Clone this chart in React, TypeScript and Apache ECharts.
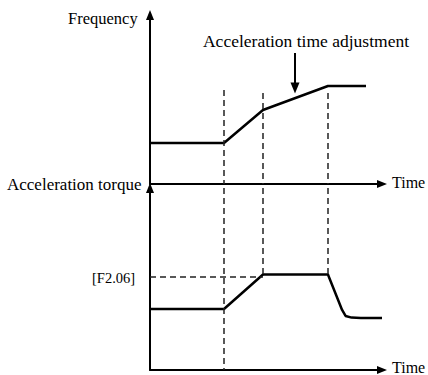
import React, { useEffect, useRef } from "react";
import * as echarts from "echarts";

// Frequency (upper panel), time in arbitrary units 0..100
const freqTime = [0, 31.9, 48.7, 76.7, 93.1];
const freqValue = [24.3, 24.3, 43.8, 58.0, 58.0];

// Acceleration torque (lower panel)
const torqueTime = [0, 31.9, 48.7, 76.7, 82.8, 84.3, 86.9, 90.9, 100];
const torqueValue = [33.5, 33.5, 52.5, 52.5, 33.0, 29.7, 28.8, 28.6, 28.6];

// Dashed guide lines
const markerTimes = [31.9, 48.7, 76.7];
const upperDashTop = [55.6, 53.8, 53.8];
const lowerDashBottom = [0, 52.5, 52.5];
const f206Level = 51.1;
const f206EndTime = 48.7;

// Annotation arrow
const annotTime = 62.5;
const annotFrom = 77.5;
const annotTo = 56.8;

const labels = {
  freq: "Frequency",
  torque: "Acceleration torque",
  time: "Time",
  f206: "[F2.06]",
  annot: "Acceleration time adjustment",
};

const FONT = "'Liberation Serif', 'Times New Roman', serif";
const INK = "#000";

export default function App() {
  const ref = useRef<HTMLDivElement>(null);
  useEffect(() => {
    if (!ref.current) return;
    const chart = echarts.init(ref.current, null, { renderer: "svg" });

    const axisCommon = (extra: any) => ({
      type: "value",
      min: 0,
      max: 100,
      axisLine: {
        show: true,
        onZero: false,
        symbol: ["none", "triangle"],
        symbolSize: [8, 10],
        lineStyle: { color: INK, width: 2 },
      },
      axisTick: { show: false },
      axisLabel: { show: false },
      splitLine: { show: false },
      ...extra,
    });

    const dashStyle = { color: "#222", width: 1.5, type: [6, 4] as any };

    const upperDash = markerTimes.map((t, i) => [
      { coord: [t, upperDashTop[i]] },
      { coord: [t, 0] },
    ]);
    const lowerDash = markerTimes.map((t, i) => [
      { coord: [t, 100] },
      { coord: [t, lowerDashBottom[i]] },
    ]);

    const text = (x: number, y: number, s: string, align: string, size = 16) => ({
      type: "text",
      x,
      y,
      style: {
        text: s,
        fill: INK,
        fontFamily: FONT,
        fontSize: size,
        align,
        verticalAlign: "middle",
      },
    });

    chart.setOption({
      animation: false,
      backgroundColor: "#fff",
      grid: [
        { left: 150, top: 15, width: 232, height: 169 },
        { left: 150, top: 188, width: 232, height: 182 },
      ],
      xAxis: [axisCommon({ gridIndex: 0 }), axisCommon({ gridIndex: 1 })],
      yAxis: [axisCommon({ gridIndex: 0 }), axisCommon({ gridIndex: 1 })],
      series: [
        {
          type: "line",
          xAxisIndex: 0,
          yAxisIndex: 0,
          data: freqTime.map((t, i) => [t, freqValue[i]]),
          symbol: "none",
          lineStyle: { color: INK, width: 2.5 },
          markLine: {
            silent: true,
            symbol: "none",
            label: { show: false },
            lineStyle: dashStyle,
            data: upperDash,
          },
        },
        {
          type: "line",
          xAxisIndex: 0,
          yAxisIndex: 0,
          data: [],
          markLine: {
            silent: true,
            symbol: ["none", "triangle"],
            symbolSize: [9, 11],
            label: { show: false },
            lineStyle: { color: INK, width: 2, type: "solid" },
            data: [[{ coord: [annotTime, annotFrom] }, { coord: [annotTime, annotTo] }]],
          },
        },
        {
          type: "line",
          xAxisIndex: 1,
          yAxisIndex: 1,
          data: torqueTime.map((t, i) => [t, torqueValue[i]]),
          symbol: "none",
          lineStyle: { color: INK, width: 2.5 },
          markLine: {
            silent: true,
            symbol: "none",
            label: { show: false },
            lineStyle: dashStyle,
            data: [
              ...lowerDash,
              [{ coord: [0, f206Level] }, { coord: [f206EndTime, f206Level] }],
            ],
          },
        },
      ],
      graphic: [
        text(68, 18, labels.freq, "left", 16.5),
        text(7, 184, labels.torque, "left", 17),
        text(392, 182, labels.time, "left", 16),
        text(392, 367, labels.time, "left", 16),
        text(92, 278, labels.f206, "left", 14.5),
        text(306, 41, labels.annot, "center", 17.5),
      ],
    });
    return () => chart.dispose();
  }, []);

  return (
    <div
      ref={ref}
      style={{ position: "fixed", left: 0, top: 0, width: 428, height: 375 }}
    />
  );
}
